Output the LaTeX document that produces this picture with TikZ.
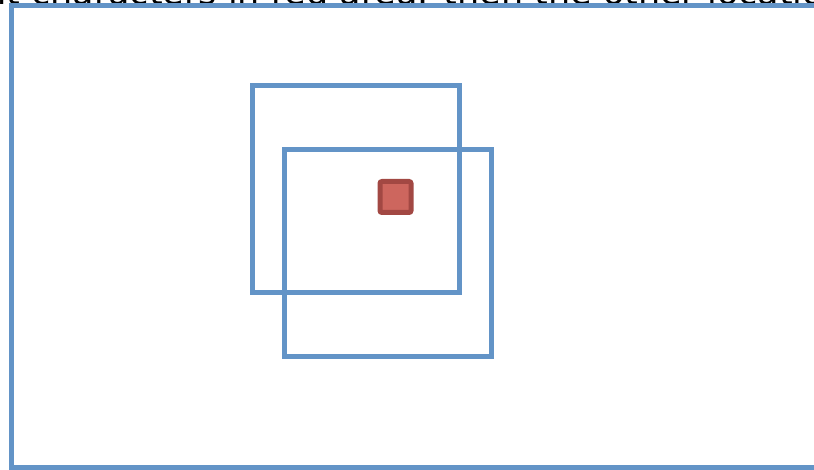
\documentclass[tikz,border=0pt]{standalone}
\usepackage{fontspec}
\setmainfont{DejaVu Sans}
\definecolor{frameblue}{RGB}{99,148,199}
\definecolor{redfill}{RGB}{205,102,94}
\definecolor{redline}{RGB}{162,72,67}
\tikzset{
  bluebox/.style={draw=frameblue, line width=5pt},
  redbox/.style={draw=redline, fill=redfill, line width=5pt, rounded corners=2pt},
}
\begin{document}
\begin{tikzpicture}[x=1pt,y=-1pt]
\useasboundingbox (0,0) rectangle (814,470);
\clip (0,0) rectangle (814,470);
\node[anchor=base west, inner sep=0pt, font=\fontsize{35}{42}\selectfont] (caption) at (-16,5) {nt characters in red area. then the other location};
\draw[bluebox] (11,6) rectangle (830,467);
\node[bluebox, minimum width=207pt, minimum height=207pt, inner sep=0pt] (boxa) at (355.5,189.5) {};
\node[bluebox, minimum width=207pt, minimum height=206pt, inner sep=0pt] (boxb) at (387.5,253) {};
\node[redbox, minimum width=31pt, minimum height=31pt, inner sep=0pt] (target) at (395.5,197) {};
\end{tikzpicture}
\end{document}
